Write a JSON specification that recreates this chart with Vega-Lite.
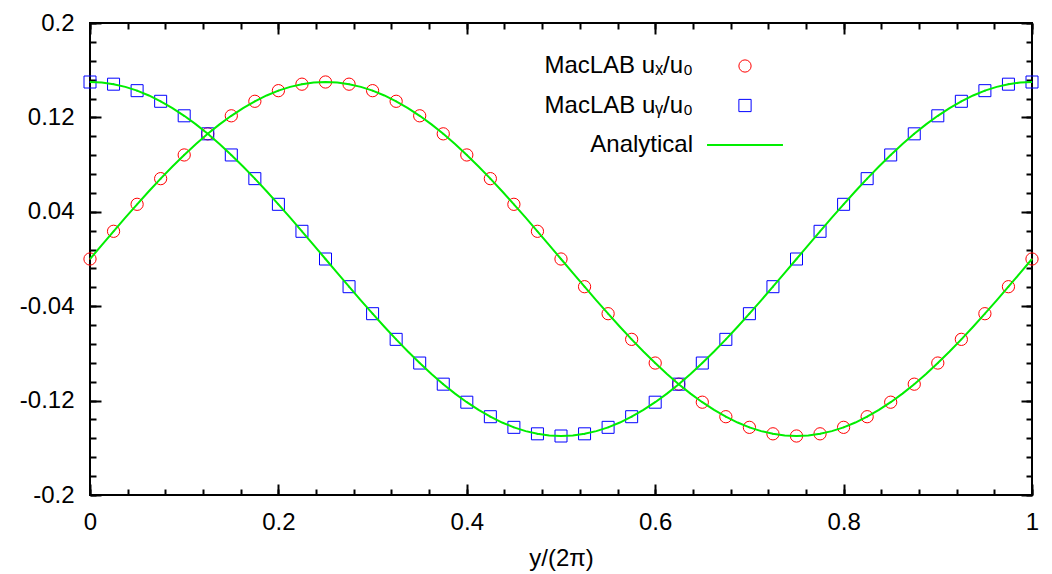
{
 "$schema": "https://vega.github.io/schema/vega-lite/v6.json",
 "width": 942, "height": 472,
 "autosize": {"type": "none"},
 "padding": {"left": 90, "top": 23, "right": 20, "bottom": 79},
 "background": "white",
 "config": {
  "view": {"stroke": "black", "strokeWidth": 2},
  "axis": {"grid": false, "domain": false, "labelFont": "Liberation Sans", "labelFontSize": 24, "labelColor": "black", "tickColor": "black", "tickWidth": 2, "titleFont": "Liberation Sans", "titleFontSize": 24, "titleFontWeight": "normal", "titleColor": "black", "labelExpr": "'' + datum.value"},
  "legend": {"orient": "none", "legendX": 643, "legendY": 31, "title": null, "labelFont": "Liberation Sans", "labelFontSize": 24, "labelColor": "black", "labelAlign": "right", "labelOffset": -64, "labelLimit": 500, "symbolSize": 150, "symbolStrokeWidth": 1, "rowPadding": 15.5, "padding": 0}
 },
 "datasets": {
  "pts": [
   {"x": 0, "ux": 0, "uy": 0.15},
   {"x": 0.025, "ux": 0.02347, "uy": 0.14815},
   {"x": 0.05, "ux": 0.04635, "uy": 0.14266},
   {"x": 0.075, "ux": 0.0681, "uy": 0.13365},
   {"x": 0.1, "ux": 0.08817, "uy": 0.12135},
   {"x": 0.125, "ux": 0.10607, "uy": 0.10607},
   {"x": 0.15, "ux": 0.12135, "uy": 0.08817},
   {"x": 0.175, "ux": 0.13365, "uy": 0.0681},
   {"x": 0.2, "ux": 0.14266, "uy": 0.04635},
   {"x": 0.225, "ux": 0.14815, "uy": 0.02347},
   {"x": 0.25, "ux": 0.15, "uy": 0},
   {"x": 0.275, "ux": 0.14815, "uy": -0.02347},
   {"x": 0.3, "ux": 0.14266, "uy": -0.04635},
   {"x": 0.325, "ux": 0.13365, "uy": -0.0681},
   {"x": 0.35, "ux": 0.12135, "uy": -0.08817},
   {"x": 0.375, "ux": 0.10607, "uy": -0.10607},
   {"x": 0.4, "ux": 0.08817, "uy": -0.12135},
   {"x": 0.425, "ux": 0.0681, "uy": -0.13365},
   {"x": 0.45, "ux": 0.04635, "uy": -0.14266},
   {"x": 0.475, "ux": 0.02347, "uy": -0.14815},
   {"x": 0.5, "ux": 0, "uy": -0.15},
   {"x": 0.525, "ux": -0.02347, "uy": -0.14815},
   {"x": 0.55, "ux": -0.04635, "uy": -0.14266},
   {"x": 0.575, "ux": -0.0681, "uy": -0.13365},
   {"x": 0.6, "ux": -0.08817, "uy": -0.12135},
   {"x": 0.625, "ux": -0.10607, "uy": -0.10607},
   {"x": 0.65, "ux": -0.12135, "uy": -0.08817},
   {"x": 0.675, "ux": -0.13365, "uy": -0.0681},
   {"x": 0.7, "ux": -0.14266, "uy": -0.04635},
   {"x": 0.725, "ux": -0.14815, "uy": -0.02347},
   {"x": 0.75, "ux": -0.15, "uy": 0},
   {"x": 0.775, "ux": -0.14815, "uy": 0.02347},
   {"x": 0.8, "ux": -0.14266, "uy": 0.04635},
   {"x": 0.825, "ux": -0.13365, "uy": 0.0681},
   {"x": 0.85, "ux": -0.12135, "uy": 0.08817},
   {"x": 0.875, "ux": -0.10607, "uy": 0.10607},
   {"x": 0.9, "ux": -0.08817, "uy": 0.12135},
   {"x": 0.925, "ux": -0.0681, "uy": 0.13365},
   {"x": 0.95, "ux": -0.04635, "uy": 0.14266},
   {"x": 0.975, "ux": -0.02347, "uy": 0.14815},
   {"x": 1, "ux": 0, "uy": 0.15}
  ],
  "ana": [
   {"x": 0, "a": 0, "b": 0.15},
   {"x": 0.0125, "a": 0.01177, "b": 0.14954},
   {"x": 0.025, "a": 0.02347, "b": 0.14815},
   {"x": 0.0375, "a": 0.03502, "b": 0.14586},
   {"x": 0.05, "a": 0.04635, "b": 0.14266},
   {"x": 0.0625, "a": 0.0574, "b": 0.13858},
   {"x": 0.075, "a": 0.0681, "b": 0.13365},
   {"x": 0.0875, "a": 0.07837, "b": 0.1279},
   {"x": 0.1, "a": 0.08817, "b": 0.12135},
   {"x": 0.1125, "a": 0.09742, "b": 0.11406},
   {"x": 0.125, "a": 0.10607, "b": 0.10607},
   {"x": 0.1375, "a": 0.11406, "b": 0.09742},
   {"x": 0.15, "a": 0.12135, "b": 0.08817},
   {"x": 0.1625, "a": 0.1279, "b": 0.07837},
   {"x": 0.175, "a": 0.13365, "b": 0.0681},
   {"x": 0.1875, "a": 0.13858, "b": 0.0574},
   {"x": 0.2, "a": 0.14266, "b": 0.04635},
   {"x": 0.2125, "a": 0.14586, "b": 0.03502},
   {"x": 0.225, "a": 0.14815, "b": 0.02347},
   {"x": 0.2375, "a": 0.14954, "b": 0.01177},
   {"x": 0.25, "a": 0.15, "b": 0},
   {"x": 0.2625, "a": 0.14954, "b": -0.01177},
   {"x": 0.275, "a": 0.14815, "b": -0.02347},
   {"x": 0.2875, "a": 0.14586, "b": -0.03502},
   {"x": 0.3, "a": 0.14266, "b": -0.04635},
   {"x": 0.3125, "a": 0.13858, "b": -0.0574},
   {"x": 0.325, "a": 0.13365, "b": -0.0681},
   {"x": 0.3375, "a": 0.1279, "b": -0.07837},
   {"x": 0.35, "a": 0.12135, "b": -0.08817},
   {"x": 0.3625, "a": 0.11406, "b": -0.09742},
   {"x": 0.375, "a": 0.10607, "b": -0.10607},
   {"x": 0.3875, "a": 0.09742, "b": -0.11406},
   {"x": 0.4, "a": 0.08817, "b": -0.12135},
   {"x": 0.4125, "a": 0.07837, "b": -0.1279},
   {"x": 0.425, "a": 0.0681, "b": -0.13365},
   {"x": 0.4375, "a": 0.0574, "b": -0.13858},
   {"x": 0.45, "a": 0.04635, "b": -0.14266},
   {"x": 0.4625, "a": 0.03502, "b": -0.14586},
   {"x": 0.475, "a": 0.02347, "b": -0.14815},
   {"x": 0.4875, "a": 0.01177, "b": -0.14954},
   {"x": 0.5, "a": 0, "b": -0.15},
   {"x": 0.5125, "a": -0.01177, "b": -0.14954},
   {"x": 0.525, "a": -0.02347, "b": -0.14815},
   {"x": 0.5375, "a": -0.03502, "b": -0.14586},
   {"x": 0.55, "a": -0.04635, "b": -0.14266},
   {"x": 0.5625, "a": -0.0574, "b": -0.13858},
   {"x": 0.575, "a": -0.0681, "b": -0.13365},
   {"x": 0.5875, "a": -0.07837, "b": -0.1279},
   {"x": 0.6, "a": -0.08817, "b": -0.12135},
   {"x": 0.6125, "a": -0.09742, "b": -0.11406},
   {"x": 0.625, "a": -0.10607, "b": -0.10607},
   {"x": 0.6375, "a": -0.11406, "b": -0.09742},
   {"x": 0.65, "a": -0.12135, "b": -0.08817},
   {"x": 0.6625, "a": -0.1279, "b": -0.07837},
   {"x": 0.675, "a": -0.13365, "b": -0.0681},
   {"x": 0.6875, "a": -0.13858, "b": -0.0574},
   {"x": 0.7, "a": -0.14266, "b": -0.04635},
   {"x": 0.7125, "a": -0.14586, "b": -0.03502},
   {"x": 0.725, "a": -0.14815, "b": -0.02347},
   {"x": 0.7375, "a": -0.14954, "b": -0.01177},
   {"x": 0.75, "a": -0.15, "b": 0},
   {"x": 0.7625, "a": -0.14954, "b": 0.01177},
   {"x": 0.775, "a": -0.14815, "b": 0.02347},
   {"x": 0.7875, "a": -0.14586, "b": 0.03502},
   {"x": 0.8, "a": -0.14266, "b": 0.04635},
   {"x": 0.8125, "a": -0.13858, "b": 0.0574},
   {"x": 0.825, "a": -0.13365, "b": 0.0681},
   {"x": 0.8375, "a": -0.1279, "b": 0.07837},
   {"x": 0.85, "a": -0.12135, "b": 0.08817},
   {"x": 0.8625, "a": -0.11406, "b": 0.09742},
   {"x": 0.875, "a": -0.10607, "b": 0.10607},
   {"x": 0.8875, "a": -0.09742, "b": 0.11406},
   {"x": 0.9, "a": -0.08817, "b": 0.12135},
   {"x": 0.9125, "a": -0.07837, "b": 0.1279},
   {"x": 0.925, "a": -0.0681, "b": 0.13365},
   {"x": 0.9375, "a": -0.0574, "b": 0.13858},
   {"x": 0.95, "a": -0.04635, "b": 0.14266},
   {"x": 0.9625, "a": -0.03502, "b": 0.14586},
   {"x": 0.975, "a": -0.02347, "b": 0.14815},
   {"x": 0.9875, "a": -0.01177, "b": 0.14954},
   {"x": 1, "a": 0, "b": 0.15}
  ]
 },
 "layer": [
  {
   "data": {"name": "pts"},
   "mark": {"type": "point", "filled": false, "size": 150, "strokeWidth": 1, "opacity": 1},
   "encoding": {
    "x": {"field": "x", "type": "quantitative", "scale": {"domain": [0, 1], "nice": false, "zero": false},
          "axis": {"orient": "bottom", "values": [0, 0.2, 0.4, 0.6, 0.8, 1], "ticks": false, "labelPadding": 15, "title": "y/(2π)", "titlePadding": 12, "labelFlush": false}},
    "y": {"field": "ux", "type": "quantitative", "scale": {"domain": [-0.2, 0.2], "nice": false, "zero": false},
          "axis": {"orient": "left", "values": [-0.2, -0.12, -0.04, 0.04, 0.12, 0.2], "ticks": false, "labelPadding": 16, "title": null, "labelFlush": false}},
    "color": {"datum": "MacLAB uₓ/u₀", "type": "nominal",
              "scale": {"domain": ["MacLAB uₓ/u₀", "MacLAB uᵧ/u₀", "Analytical"], "range": ["#ff0000", "#0000ff", "#00ee00"]},
              "legend": {"encode": {"symbols": {"fill": {"value": "transparent"}}}}},
    "shape": {"datum": "MacLAB uₓ/u₀", "type": "nominal",
              "scale": {"domain": ["MacLAB uₓ/u₀", "MacLAB uᵧ/u₀", "Analytical"], "range": ["circle", "square", "M-6.2,-0.08H6.2M-6.2,0.08H6.2"]},
              "legend": {"encode": {"symbols": {"fill": {"value": "transparent"}}}}}
   }
  },
  {
   "data": {"name": "pts"},
   "mark": {"type": "point", "filled": false, "size": 144, "strokeWidth": 1, "opacity": 1},
   "encoding": {
    "x": {"field": "x", "type": "quantitative", "axis": {"orient": "top", "values": [0, 0.2, 0.4, 0.6, 0.8, 1], "labels": false, "tickSize": -11, "title": null}},
    "y": {"field": "uy", "type": "quantitative", "axis": {"orient": "right", "values": [-0.2, -0.12, -0.04, 0.04, 0.12, 0.2], "labels": false, "tickSize": -11, "title": null}},
    "color": {"datum": "MacLAB uᵧ/u₀", "type": "nominal"},
    "shape": {"datum": "MacLAB uᵧ/u₀", "type": "nominal"}
   }
  },
  {
   "data": {"name": "pts"},
   "mark": {"type": "point", "filled": true, "size": 3, "opacity": 1, "color": "#ff0000"},
   "encoding": {
    "x": {"field": "x", "type": "quantitative", "axis": {"orient": "bottom", "values": [0, 0.04, 0.08, 0.12, 0.16, 0.2, 0.24, 0.28, 0.32, 0.36, 0.4, 0.44, 0.48, 0.52, 0.56, 0.6, 0.64, 0.68, 0.72, 0.76, 0.8, 0.84, 0.88, 0.92, 0.96, 1], "labels": false, "tickSize": -6, "title": null}},
    "y": {"field": "ux", "type": "quantitative", "axis": {"orient": "left", "values": [-0.2, -0.184, -0.168, -0.152, -0.136, -0.12, -0.104, -0.088, -0.072, -0.056, -0.04, -0.024, -0.008, 0.008, 0.024, 0.04, 0.056, 0.072, 0.088, 0.104, 0.12, 0.136, 0.152, 0.168, 0.184, 0.2], "labels": false, "tickSize": -6, "title": null}}
   }
  },
  {
   "data": {"name": "pts"},
   "mark": {"type": "point", "filled": true, "size": 3, "opacity": 1, "color": "#0000ff"},
   "encoding": {
    "x": {"field": "x", "type": "quantitative", "axis": {"orient": "top", "values": [0, 0.04, 0.08, 0.12, 0.16, 0.2, 0.24, 0.28, 0.32, 0.36, 0.4, 0.44, 0.48, 0.52, 0.56, 0.6, 0.64, 0.68, 0.72, 0.76, 0.8, 0.84, 0.88, 0.92, 0.96, 1], "labels": false, "tickSize": -6, "title": null}},
    "y": {"field": "uy", "type": "quantitative", "axis": {"orient": "right", "values": [-0.2, -0.184, -0.168, -0.152, -0.136, -0.12, -0.104, -0.088, -0.072, -0.056, -0.04, -0.024, -0.008, 0.008, 0.024, 0.04, 0.056, 0.072, 0.088, 0.104, 0.12, 0.136, 0.152, 0.168, 0.184, 0.2], "labels": false, "tickSize": -6, "title": null}}
   }
  },
  {
   "data": {"name": "ana"},
   "mark": {"type": "line", "strokeWidth": 2, "color": "#00ee00"},
   "encoding": {
    "x": {"field": "x", "type": "quantitative", "axis": {"orient": "bottom", "values": [0, 0.2, 0.4, 0.6, 0.8, 1], "labels": false, "tickSize": -11, "title": null}},
    "y": {"field": "a", "type": "quantitative", "axis": {"orient": "left", "values": [-0.2, -0.12, -0.04, 0.04, 0.12, 0.2], "labels": false, "tickSize": -11, "title": null}}
   }
  },
  {
   "data": {"name": "ana"},
   "mark": {"type": "line", "strokeWidth": 2, "color": "#00ee00"},
   "encoding": {
    "x": {"field": "x", "type": "quantitative", "axis": null},
    "y": {"field": "b", "type": "quantitative", "axis": null}
   }
  }
 ]
}
